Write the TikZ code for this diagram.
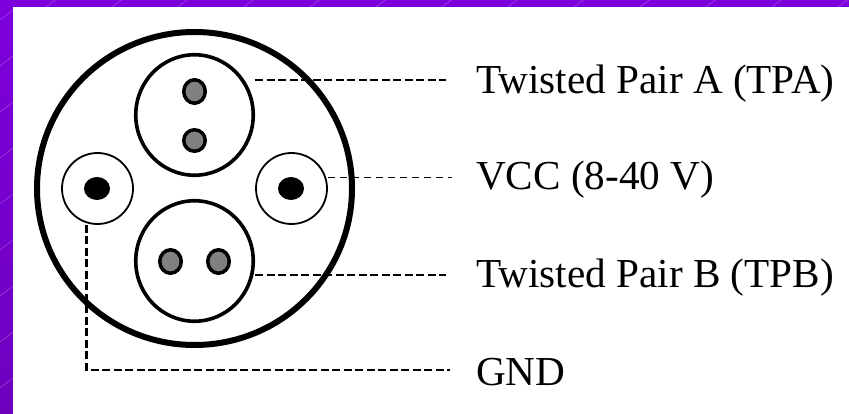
\documentclass[tikz,border=0pt]{standalone}
\usepackage{fontspec}
\setmainfont{Liberation Serif}
\usetikzlibrary{shapes.geometric}
\definecolor{bgA}{HTML}{7D00DC}
\definecolor{bgB}{HTML}{6E00BE}
\definecolor{pin}{HTML}{808080}
\tikzset{
 outerring/.style={ellipse,draw=black,line width=6pt,inner sep=0pt,minimum width=315pt,minimum height=313pt},
 bigring/.style={ellipse,draw=black,fill=white,line width=3.6pt,inner sep=0pt,minimum width=117.5pt,minimum height=120.5pt},
 sidering/.style={circle,draw=black,fill=white,line width=1.8pt,inner sep=0pt,minimum size=71pt},
 conn/.style={draw=black,line width=2.1pt,dash pattern=on 8pt off 3.5pt},
 thinconn/.style={draw=black,line width=0.9pt,dash pattern=on 7pt off 5pt},
 graypin/.style={ellipse,draw=black,fill=pin,line width=3.5pt,inner sep=0pt,minimum width=21.5pt,minimum height=#1},
 graypin/.default=23.5pt,
 blackpin/.style={ellipse,fill=black,inner sep=0pt,minimum width=26pt,minimum height=23pt},
 lab/.style={anchor=base west,inner sep=0pt,font=\fontsize{41.2}{41.2}\selectfont},
 streak/.style={draw=white,opacity=.35,line width=.4pt}
}
\begin{document}
\begin{tikzpicture}[x=1pt,y=-1pt]
\useasboundingbox (0,0) rectangle (849,414);
\shade[top color=bgA,bottom color=bgB] (0,0) rectangle (849,414);
\foreach \x in {-20,46,...,860} \draw[streak] (\x,7) -- (\x+25,-12);
\foreach \y in {20,66,...,420} \draw[streak] (0,\y) -- (13,\y-10);
\fill[white] (13,7) rectangle (849,414);
\node[outerring] (outer) at (194.5,188.5) {};
\node[bigring] (ta) at (194.5,115) {};
\node[bigring] (tb) at (194.5,261) {};
\node[sidering] (gnd) at (97.5,188.5) {};
\node[sidering] (vcc) at (291.5,188.5) {};
\node[graypin] (p1) at (194.5,91.5) {};
\node[graypin=21.5pt] (p2) at (194.5,140.5) {};
\node[graypin] (p3) at (170.5,261.5) {};
\node[graypin] (p4) at (218.5,261.5) {};
\node[blackpin] (p5) at (97,188.5) {};
\node[blackpin] (p6) at (291,188.5) {};
\node[lab] (lta) at (476,93.5) {Twisted Pair A (TPA)};
\node[lab] (lvcc) at (476,189.5) {VCC (8-40 V)};
\node[lab] (ltb) at (476,287.5) {Twisted Pair B (TPB)};
\node[lab] (lg) at (476,385.5) {GND};
\coordinate (ea) at (446,80.3);
\coordinate (ev) at (452,177.5);
\coordinate (eb) at (446,274.7);
\coordinate (eg) at (450,370);
\coordinate (cg) at (86.5,370);
\draw[conn] (ta.east |- ea) -- (ea);
\draw[thinconn] (vcc.east |- ev) -- (ev);
\draw[conn] (tb.east |- eb) -- (eb);
\draw[conn] (gnd.south -| cg) -- (cg) -- (eg);
\end{tikzpicture}
\end{document}
